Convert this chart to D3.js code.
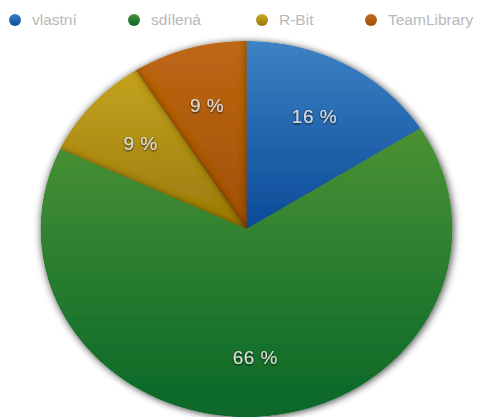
<!DOCTYPE html>
<html>
<head>
<meta charset="utf-8">
<script src="https://cdn.jsdelivr.net/npm/d3@7"></script>
<style>
  body { margin: 0; background: #fff; }
  svg { display: block; font-family: "Liberation Sans", Arial, Helvetica, sans-serif; }
</style>
</head>
<body>
<svg id="chart" width="484" height="417"></svg>
<script>
const categories = ['vlastní', 'sdílená', 'R-Bit', 'TeamLibrary'];
const values = [16, 66, 9, 9];
const topColors = ['#3d82c4', '#4b9233', '#cdaa24', '#c46c14'];
const bottomColors = ['#0a4a98', '#08672a', '#9a7a0e', '#a0500c'];

const cx = 246.5;
const cy = 229;
const radius = 206;
const squash = 0.913;

const data = categories.map((c, i) => ({ label: c, value: values[i], i }));

const svg = d3.select('#chart');
const defs = svg.append('defs');

// per-slice vertical gradients
data.forEach(d => {
  const g = defs.append('linearGradient')
      .attr('id', `grad${d.i}`)
      .attr('x1', 0).attr('y1', 0)
      .attr('x2', 0).attr('y2', 1);
  g.append('stop').attr('offset', '0%').attr('stop-color', topColors[d.i]);
  g.append('stop').attr('offset', '100%').attr('stop-color', bottomColors[d.i]);
});

const outer = defs.append('filter')
    .attr('id', 'outerShadow')
    .attr('x', '-10%').attr('y', '-10%')
    .attr('width', '120%').attr('height', '120%');
outer.append('feGaussianBlur').attr('in', 'SourceAlpha').attr('stdDeviation', 4).attr('result', 'b');
outer.append('feOffset').attr('in', 'b').attr('dx', 1).attr('dy', 1).attr('result', 'o');
outer.append('feComponentTransfer').attr('in', 'o').attr('result', 's')
  .append('feFuncA').attr('type', 'linear').attr('slope', 0.75);
const om = outer.append('feMerge');
om.append('feMergeNode').attr('in', 's');
om.append('feMergeNode').attr('in', 'SourceGraphic');

// inner shadow along the radial edges of the small slices
const inner = defs.append('filter')
    .attr('id', 'innerShadow')
    .attr('x', '-10%').attr('y', '-10%')
    .attr('width', '120%').attr('height', '120%');
inner.append('feFlood').attr('flood-color', '#000').attr('flood-opacity', 0.75).attr('result', 'f');
inner.append('feComposite').attr('in', 'f').attr('in2', 'SourceAlpha').attr('operator', 'out').attr('result', 'inv');
inner.append('feGaussianBlur').attr('in', 'inv').attr('stdDeviation', 3.5).attr('result', 'blur');
inner.append('feComposite').attr('in', 'blur').attr('in2', 'SourceAlpha').attr('operator', 'in').attr('result', 'sh');
const im = inner.append('feMerge');
im.append('feMergeNode').attr('in', 'SourceGraphic');
im.append('feMergeNode').attr('in', 'sh');

const textShadow = defs.append('filter')
    .attr('id', 'textShadow')
    .attr('x', '-20%').attr('y', '-30%')
    .attr('width', '140%').attr('height', '160%');
textShadow.append('feGaussianBlur').attr('in', 'SourceAlpha').attr('stdDeviation', 0.8).attr('result', 'b');
textShadow.append('feOffset').attr('in', 'b').attr('dx', 0).attr('dy', 1).attr('result', 'o');
textShadow.append('feComponentTransfer').attr('in', 'o').attr('result', 's')
  .append('feFuncA').attr('type', 'linear').attr('slope', 0.85);
const tm = textShadow.append('feMerge');
tm.append('feMergeNode').attr('in', 's');
tm.append('feMergeNode').attr('in', 'SourceGraphic');

defs.append('clipPath')
    .attr('id', 'pieClip')
  .append('circle')
    .attr('r', radius);

const pie = d3.pie()
    .sort(null)
    .value(d => d.value);

const arcs = pie(data);

const arc = d3.arc()
    .innerRadius(0)
    .outerRadius(radius);

// oversized wedge so the inner shadow only shows on the straight edges
const bigArc = d3.arc()
    .innerRadius(0)
    .outerRadius(radius + 40);

const labelArc = d3.arc()
    .innerRadius(radius * 0.685)
    .outerRadius(radius * 0.685);

const pieG = svg.append('g')
    .attr('transform', `translate(${cx},${cy}) scale(1,${squash})`)
    .attr('filter', 'url(#outerShadow)');

const clipped = pieG.append('g')
    .attr('clip-path', 'url(#pieClip)');

clipped.selectAll('path.plain')
    .data(arcs.filter(d => d.data.value > 10))
  .enter().append('path')
    .attr('class', 'plain')
    .attr('d', arc)
    .attr('fill', d => `url(#grad${d.data.i})`);

clipped.selectAll('path.shaded')
    .data(arcs.filter(d => d.data.value <= 10))
  .enter().append('path')
    .attr('class', 'shaded')
    .attr('d', bigArc)
    .attr('fill', d => `url(#grad${d.data.i})`)
    .attr('filter', 'url(#innerShadow)');

svg.append('g')
    .selectAll('text')
    .data(arcs)
  .enter().append('text')
    .attr('x', d => cx + labelArc.centroid(d)[0])
    .attr('y', d => cy + labelArc.centroid(d)[1] * squash)
    .attr('dy', '0.35em')
    .attr('text-anchor', 'middle')
    .attr('font-size', 19)
    .attr('letter-spacing', 0.5)
    .attr('fill', '#dcdcdc')
    .attr('filter', 'url(#textShadow)')
    .text(d => `${d.data.value} %`);

// legend
const legendX = [15, 134, 262, 371];
const item = svg.append('g')
    .selectAll('g')
    .data(data)
  .enter().append('g')
    .attr('transform', d => `translate(${legendX[d.i]},20)`);
item.append('circle')
    .attr('r', 6)
    .attr('fill', d => `url(#grad${d.i})`);
item.append('text')
    .attr('x', 17)
    .attr('dy', '0.35em')
    .attr('font-size', 15.5)
    .attr('fill', '#b8b8b8')
    .text(d => d.label);
</script>
</body>
</html>
